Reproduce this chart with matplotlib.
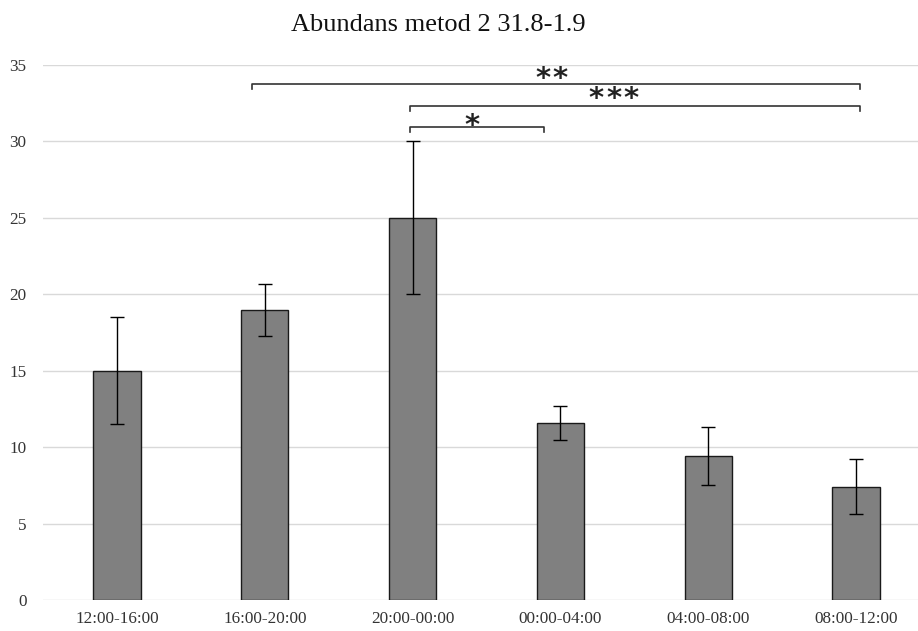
import matplotlib
matplotlib.use("Agg")
import matplotlib.pyplot as plt
import numpy as np

# ---------------------------------------------------------------------------
#  Data
# ---------------------------------------------------------------------------
periods = ["12:00-16:00", "16:00-20:00", "20:00-00:00",
           "00:00-04:00", "04:00-08:00", "08:00-12:00"]
abundance = [15.0, 19.0, 25.0, 11.6, 9.4, 7.4]
errors = [3.5, 1.7, 5.0, 1.1, 1.9, 1.8]

# significance brackets: (start, end, line y, stars, star x, star y)
brackets = [
    (0.91, 5.03, 33.75, 2, 2.94, 34.07),
    (1.98, 5.03, 32.35, 3, 3.36, 32.77),
    (1.98, 2.89, 30.96, 1, 2.40, 31.02),
]
yticks = [0, 5, 10, 15, 20, 25, 30, 35]

# ---------------------------------------------------------------------------
#  Plot
# ---------------------------------------------------------------------------
serif = ["Liberation Serif", "DejaVu Serif"]

fig = plt.figure(figsize=(9.18, 6.31), dpi=100)
ax = fig.add_axes([0.047, 0.049, 0.953, 0.848])

x = np.arange(len(periods))
ax.bar(x, abundance, width=0.32, color="#808080", edgecolor="#1a1a1a",
       linewidth=1.0, zorder=3)
ax.errorbar(x, abundance, yerr=errors, fmt="none", ecolor="black",
            elinewidth=1.0, capsize=5, capthick=1.0, zorder=4)

star_step = 0.117
for x0, x1, y, n, sx, sy in brackets:
    ax.plot([x0, x0, x1, x1], [y - 0.35, y, y, y - 0.35], color="#333333",
            linewidth=1.2, clip_on=False, zorder=5)
    for k in range(n):
        xs = sx + (k - (n - 1) / 2) * star_step
        ax.text(xs, sy, "*", ha="center", va="center", fontsize=21,
                fontfamily="DejaVu Sans", fontweight="bold", color="#222222",
                zorder=6)

ax.set_xlim(-0.5, 5.42)
ax.set_ylim(0, 35)
ax.set_yticks(yticks)
ax.set_xticks(x)
ax.set_xticklabels(periods, fontfamily=serif, fontsize=12.3, color="#333333")
ax.set_yticklabels([str(t) for t in yticks], fontfamily=serif,
                   fontsize=12.3, color="#333333")
ax.tick_params(axis="both", length=0)
ax.tick_params(axis="y", pad=12)
ax.tick_params(axis="x", pad=8)

ax.yaxis.grid(True, color="#d9d9d9", linewidth=1.0, zorder=0)
ax.set_axisbelow(True)
for side in ["top", "right", "left", "bottom"]:
    ax.spines[side].set_visible(False)

fig.text(0.478, 0.96, "Abundans metod 2 31.8-1.9", ha="center", va="center",
         fontfamily=serif, fontsize=19, color="#111111")

fig.savefig("out.png", dpi=100)
